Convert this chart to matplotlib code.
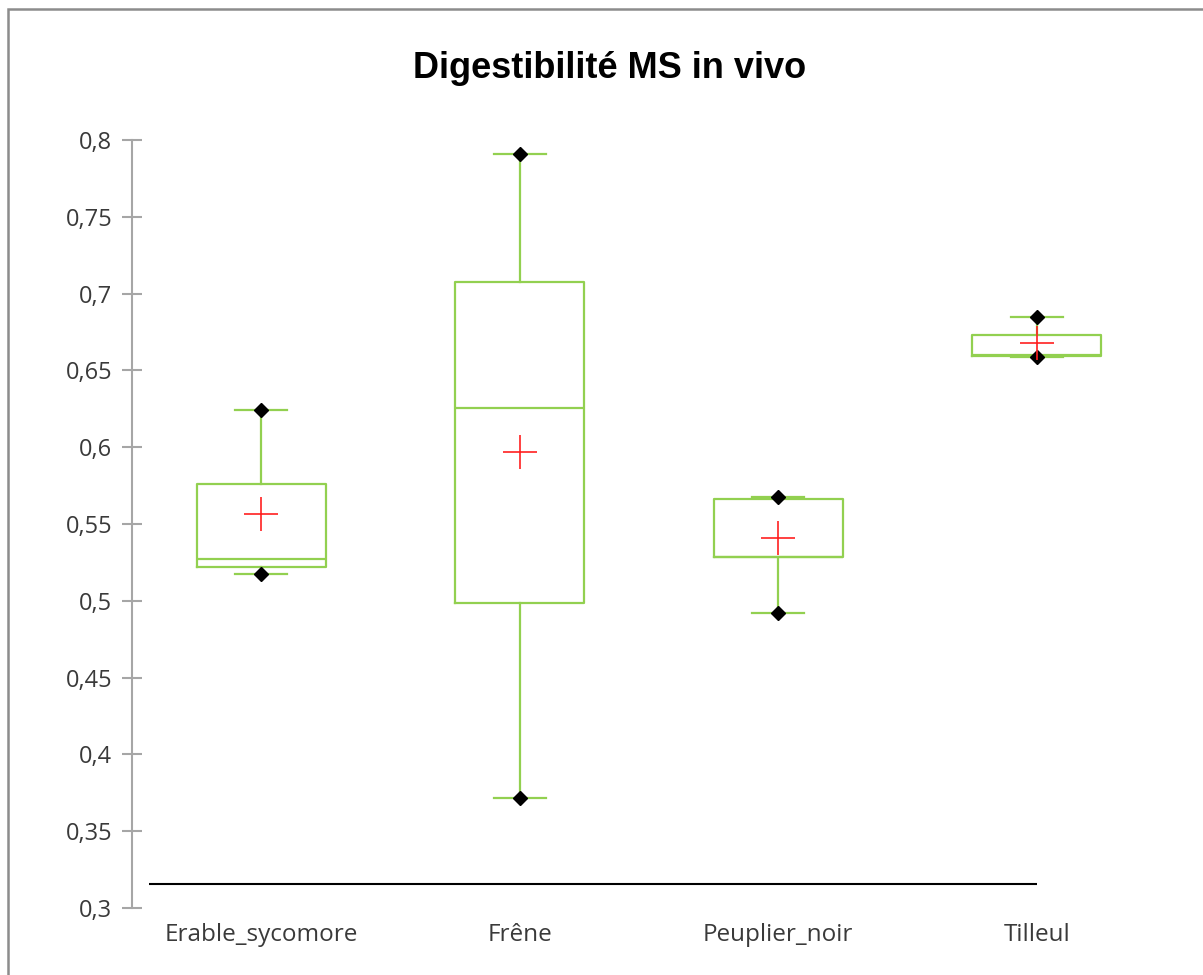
import matplotlib
matplotlib.use("Agg")
import matplotlib.pyplot as plt
from matplotlib.patches import Rectangle
from matplotlib.ticker import FixedLocator, FuncFormatter

# Dry-matter digestibility per species (box-plot statistics)
species = ["Erable_sycomore", "Frêne", "Peuplier_noir", "Tilleul"]
minimum = [0.5172, 0.3716, 0.4919, 0.6589]
q1 = [0.5222, 0.4986, 0.5283, 0.6592]
median = [0.5272, 0.6255, 0.5283, 0.6598]
q3 = [0.5763, 0.7076, 0.5663, 0.6733]
maximum = [0.6242, 0.7909, 0.5674, 0.6846]
mean = [0.5565, 0.5969, 0.5411, 0.6680]

# Reference line drawn under the boxes
ref_x = [-0.433, 3.0]
ref_y = [0.3156, 0.3156]

y_ticks = [0.3, 0.35, 0.4, 0.45, 0.5, 0.55, 0.6, 0.65, 0.7, 0.75, 0.8]

GREEN = "#92D050"
AXIS_GREY = "#A6A6A6"
TEXT = "#3A3A3A"

fig = plt.figure(figsize=(12.03, 9.75), dpi=100)
ax = fig.add_axes([132 / 1203, 67 / 975, 1034 / 1203, 768 / 975])

stats = []
for i, name in enumerate(species):
    stats.append(dict(label=name, whislo=minimum[i], q1=q1[i], med=median[i],
                      q3=q3[i], whishi=maximum[i], mean=mean[i]))

pos = list(range(len(species)))
ax.bxp(stats, positions=pos, widths=0.5, showfliers=False, showmeans=False,
       patch_artist=False,
       boxprops=dict(color=GREEN, linewidth=1.6),
       whiskerprops=dict(color=GREEN, linewidth=1.6),
       capprops=dict(color=GREEN, linewidth=1.6),
       medianprops=dict(color=GREEN, linewidth=1.6),
       capwidths=0.2)

# min / max markers
ax.plot(pos, minimum, linestyle="none", marker="D", markersize=7,
        color="black", zorder=5)
ax.plot(pos, maximum, linestyle="none", marker="D", markersize=7,
        color="black", zorder=5)
# mean markers
ax.plot(pos, mean, linestyle="none", marker="+", markersize=25,
        markeredgewidth=1.2, color="#FF2020", zorder=6)

ax.plot(ref_x, ref_y, color="black", linewidth=1.5, solid_capstyle="butt")

ax.set_xlim(-0.5, 3.5)
ax.set_ylim(0.3, 0.8)

for side in ("top", "right", "bottom"):
    ax.spines[side].set_visible(False)
ax.spines["left"].set_color(AXIS_GREY)
ax.spines["left"].set_linewidth(1.5)

ax.yaxis.set_major_locator(FixedLocator(y_ticks))
ax.yaxis.set_major_formatter(FuncFormatter(
    lambda v, p: ("%g" % round(v, 2)).replace(".", ",")))
ax.tick_params(axis="y", direction="inout", length=14.5, width=1.5,
               color=AXIS_GREY, pad=7, labelsize=17, labelcolor=TEXT)
ax.set_xticks(pos)
ax.set_xticklabels(species)
ax.tick_params(axis="x", length=0, pad=11, labelsize=17.5, labelcolor=TEXT)
for lbl in ax.get_xticklabels() + ax.get_yticklabels():
    lbl.set_fontfamily("Open Sans")

fig.text(610 / 1203, (975 - 78) / 975, "Digestibilité MS in vivo",
         ha="center", va="baseline", fontsize=26, fontweight="bold",
         family="Liberation Sans", color="black")

# outer chart frame
fig.patches.append(Rectangle((8 / 1203, -0.05), 1.2, (975 - 9) / 975 + 0.05,
                             transform=fig.transFigure, fill=False,
                             edgecolor="#8C8C8C", linewidth=1.8))

fig.savefig("out.png", dpi=100)
